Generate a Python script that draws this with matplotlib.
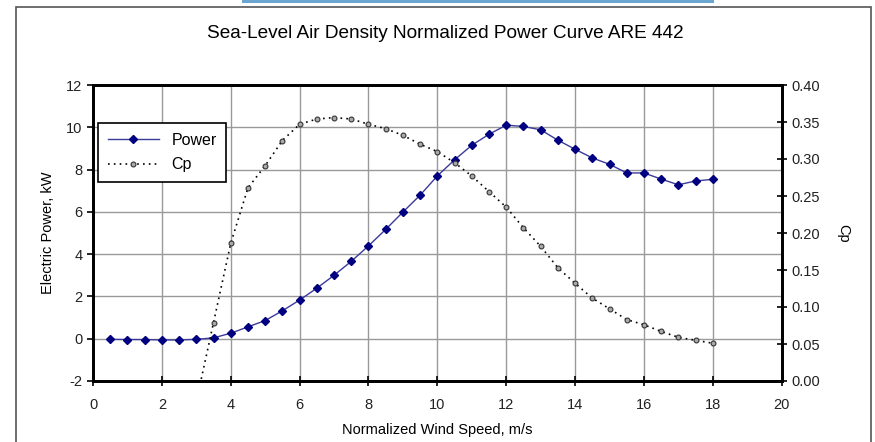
import numpy as np
import matplotlib.pyplot as plt
from matplotlib.patches import Rectangle

plt.rcParams['font.family'] = ['Liberation Sans', 'DejaVu Sans']
plt.rcParams['axes.unicode_minus'] = False

# данные
speed = [0.5, 1, 1.5, 2, 2.5, 3, 3.5, 4, 4.5, 5, 5.5, 6, 6.5, 7, 7.5, 8, 8.5, 9,
         9.5, 10, 10.5, 11, 11.5, 12, 12.5, 13, 13.5, 14, 14.5, 15, 15.5, 16,
         16.5, 17, 17.5, 18]
power = [-0.03, -0.04, -0.04, -0.06, -0.06, -0.03, 0.04, 0.26, 0.56, 0.86, 1.32,
         1.83, 2.39, 3.0, 3.66, 4.39, 5.17, 5.99, 6.79, 7.7, 8.46, 9.15, 9.67,
         10.1, 10.04, 9.88, 9.39, 8.96, 8.55, 8.25, 7.84, 7.84, 7.55, 7.28,
         7.46, 7.54]
cp_speed = [3, 3.5, 4, 4.5, 5, 5.5, 6, 6.5, 7, 7.5, 8, 8.5, 9, 9.5, 10, 10.5,
            11, 11.5, 12, 12.5, 13, 13.5, 14, 14.5, 15, 15.5, 16, 16.5, 17,
            17.5, 18]
cp = [-0.028, 0.079, 0.186, 0.261, 0.291, 0.325, 0.347, 0.354, 0.356, 0.354,
      0.347, 0.341, 0.332, 0.320, 0.310, 0.295, 0.277, 0.256, 0.235, 0.207,
      0.182, 0.153, 0.132, 0.112, 0.0975, 0.083, 0.076, 0.067, 0.059, 0.055,
      0.051]

fig = plt.figure(figsize=(8.75, 4.42), dpi=100)

# рамка вокруг всей диаграммы и синяя полоска сверху
fig.patches.append(Rectangle((16 / 875, -0.1), (871 - 16) / 875, 1.1 - 7 / 442,
                             transform=fig.transFigure, fill=False,
                             edgecolor='#555555', linewidth=1.2))
fig.patches.append(Rectangle((242 / 875, 1 - 3 / 442), (714 - 242) / 875, 3 / 442,
                             transform=fig.transFigure, color='#6aa6d0',
                             linewidth=0))

ax = fig.add_axes([93 / 875, 1 - 381 / 442, (781.7 - 93) / 875, (381 - 85) / 442])
ax2 = ax.twinx()

ax.plot(speed, power, color='#3a3a9a', linewidth=1, marker='D',
        markersize=4.5, markerfacecolor='#000080', markeredgecolor='#000080',
        label='Power', zorder=3)
ax2.plot(cp_speed, cp, color='black', linestyle=(0, (1, 2.5)), linewidth=1.2,
         marker='o', markersize=3.5, markerfacecolor='#aaaaaa',
         markeredgecolor='#333333', markeredgewidth=0.8, label='Cp')

ax.set_xlim(0, 20)
ax.set_ylim(-2, 12)
ax2.set_ylim(0, 0.4)
ax.set_xticks(np.arange(0, 21, 2))
ax.set_yticks(np.arange(-2, 13, 2))
ax2.set_yticks(np.arange(0, 0.41, 0.05))
ax2.set_yticklabels(['%.2f' % v for v in np.arange(0, 0.41, 0.05)])

ax.grid(True, color='#999999', linewidth=1)
ax.set_axisbelow(True)
for a in (ax, ax2):
    for s in a.spines.values():
        s.set_linewidth(2)
        s.set_color('black')
ax.tick_params(axis='both', labelsize=10.5, color='black', width=1.2,
               length=4, direction='out', labelcolor='#222222')
ax.tick_params(axis='x', direction='inout', length=7, pad=9)
ax2.tick_params(axis='y', labelsize=10.5, width=1.2, length=7,
                direction='inout', labelcolor='#222222')

ax.set_xlabel('Normalized Wind Speed, m/s', fontsize=10.5, labelpad=8)
ax.set_ylabel('Electric Power, kW', fontsize=10.5, labelpad=8)
ax2.set_ylabel('Cp', fontsize=10.5, rotation=270, labelpad=22)

fig.text(445 / 875, 1 - 33 / 442, 'Sea-Level Air Density Normalized Power Curve ARE 442',
         ha='center', va='center', fontsize=13.7)

h1, l1 = ax.get_legend_handles_labels()
h2, l2 = ax2.get_legend_handles_labels()
leg = ax2.legend(h1 + h2, l1 + l2, loc='upper left',
                 bbox_to_anchor=(-3 / 688.7, 1 - 30 / 296), fontsize=11.5,
                 fancybox=False, framealpha=1, edgecolor='black',
                 handlelength=3.2, borderpad=0.6, labelspacing=0.6)
leg.get_frame().set_linewidth(1.2)

fig.savefig('out.png', dpi=100)
